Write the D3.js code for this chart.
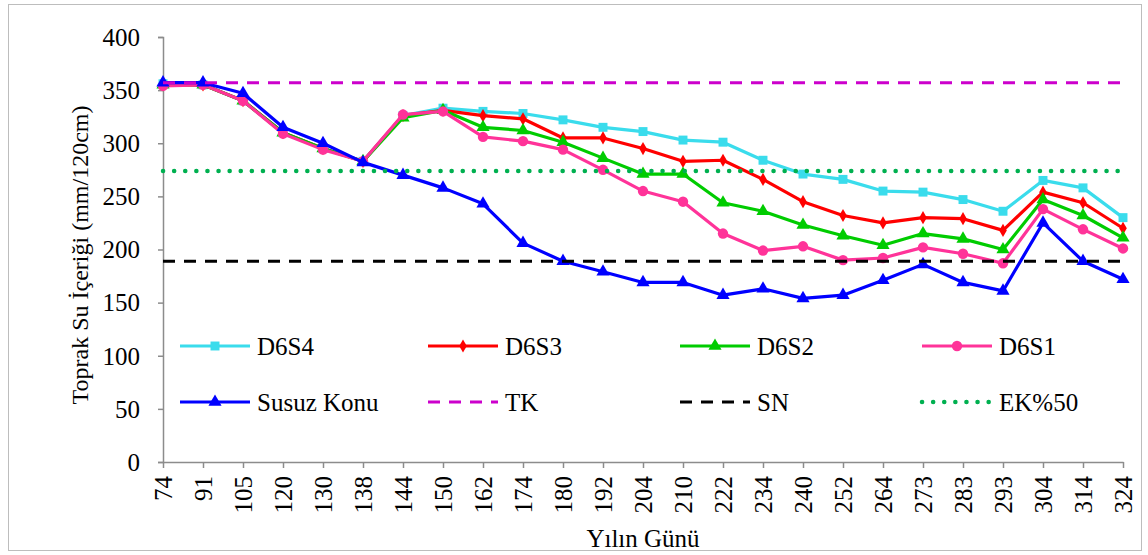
<!DOCTYPE html>
<html><head><meta charset="utf-8">
<script src="https://cdn.jsdelivr.net/npm/d3@7"></script>
</head><body style="margin:0">
<svg id="c" width="1148" height="555" font-family="Liberation Serif"></svg>
<script>
const days = ["74","91","105","120","130","138","144","150","162","174","180","192","204","210","222","234","240","252","264","273","283","293","304","314","324"];
const d6s4 = [356,355,340,310,295,283,326,333,330,328,322,315,311,303,301,284,271,266,255,254,247,236,265,258,230];
const d6s3 = [355,355,340,310,295,283,326,331,326,323,305,305,295,283,284,266,245,232,225,230,229,218,254,244,220];
const d6s2 = [355,355,340,310,295,283,324,331,315,312,301,286,271,271,244,236,223,213,204,215,210,200,247,232,211];
const d6s1 = [354,355,340,309,294,283,327,330,306,302,294,275,255,245,215,199,203,190,192,202,196,187,238,219,201];
const susuz = [357,357,347,315,300,282,270,258,243,206,189,179,169,169,157,163,154,157,171,186,169,161,225,189,172];
const tkValue = 357, snValue = 189, ekValue = 274;
const yTicks = [0,50,100,150,200,250,300,350,400];
const seriesNames = ["D6S4","D6S3","D6S2","D6S1","Susuz Konu"];
const refNames = ["TK","SN","EK%50"];

(function(){
const svg = d3.select("#c");
const font = "Liberation Serif";
const mLeft = 163, mRight = 1123, mTop = 37, mBottom = 462;

svg.append("rect").attr("x",8.5).attr("y",4.5).attr("width",1133).attr("height",546)
  .attr("fill","#fff").attr("stroke","#bdbdbd").attr("stroke-width",1);

const x = d3.scalePoint().domain(days).range([mLeft,mRight]);
const y = d3.scaleLinear().domain([0,400]).range([mBottom,mTop]);

const ya = svg.append("g").attr("transform",`translate(${mLeft},0)`)
  .call(d3.axisLeft(y).tickValues(yTicks).tickSize(5).tickPadding(18));
ya.attr("font-family",font).attr("font-size",25);
ya.select(".domain").attr("stroke","#8c8c8c").attr("stroke-width",1.5);
ya.selectAll(".tick line").attr("stroke","#8c8c8c").attr("stroke-width",1.5);
ya.selectAll("text").attr("fill","#000").attr("dy","0.33em").attr("font-family",font);

const xa = svg.append("g").attr("transform",`translate(0,${mBottom})`)
  .call(d3.axisBottom(x).tickSize(6).tickSizeOuter(0));
xa.attr("font-family",font).attr("font-size",25);
xa.select(".domain").attr("stroke","#8c8c8c").attr("stroke-width",1.5);
xa.selectAll(".tick line").attr("stroke","#8c8c8c").attr("stroke-width",1.5);
xa.selectAll("text").attr("fill","#000").attr("font-family",font)
  .attr("text-anchor","end").attr("transform","rotate(-90)")
  .attr("x",-14).attr("y",0).attr("dy","0.33em");

svg.append("text").attr("transform","translate(88,255) rotate(-90)").attr("text-anchor","middle")
  .attr("font-family",font).attr("font-size",24).attr("fill","#000")
  .text("Toprak Su İçeriği  (mm/120cm)");
svg.append("text").attr("x",643).attr("y",547).attr("text-anchor","middle")
  .attr("font-family",font).attr("font-size",25).attr("fill","#000").text("Yılın Günü");

const series = [
  {name:seriesNames[0], data:d6s4, color:"#3ADCEC", marker:"square"},
  {name:seriesNames[1], data:d6s3, color:"#FF0000", marker:"diamond"},
  {name:seriesNames[2], data:d6s2, color:"#00CC00", marker:"triangle"},
  {name:seriesNames[3], data:d6s1, color:"#FF3399", marker:"circle"},
  {name:seriesNames[4], data:susuz, color:"#0000FF", marker:"triangle"}
];
const symbols = {
  square: d3.symbol().type(d3.symbolSquare).size(80),
  diamond: d3.symbol().type(d3.symbolDiamond).size(50),
  triangle: d3.symbol().type(d3.symbolTriangle).size(75),
  circle: d3.symbol().type(d3.symbolCircle).size(85)
};
const line = d3.line().x((d,i)=>x(days[i])).y(d=>y(d));

const refs = [
  {name:refNames[0], value:tkValue, color:"#CC00CC", dash:"12,9", cap:"butt", width:3},
  {name:refNames[1], value:snValue, color:"#000000", dash:"12,9", cap:"butt", width:3},
  {name:refNames[2], value:ekValue, color:"#00B050", dash:"0.1,11", cap:"round", width:4.5}
];

series.forEach(s=>{
  const g = svg.append("g");
  g.append("path").datum(s.data).attr("d",line).attr("fill","none")
    .attr("stroke",s.color).attr("stroke-width",3.2).attr("stroke-linejoin","round");
  g.selectAll("path.m").data(s.data).join("path").attr("class","m")
    .attr("transform",(d,i)=>`translate(${x(days[i])},${y(d)})`)
    .attr("d",symbols[s.marker]()).attr("fill",s.color);
});

refs.forEach(r=>{
  svg.append("line").attr("x1",mLeft).attr("x2",mRight).attr("y1",y(r.value)).attr("y2",y(r.value))
    .attr("stroke",r.color).attr("stroke-width",r.width).attr("stroke-dasharray",r.dash)
    .attr("stroke-linecap",r.cap);
});

const cols = [180,428,680,922];
const rows = [346,402];
const items = series.map(s=>({name:s.name,color:s.color,marker:s.marker}))
  .concat(refs.map(r=>({name:r.name,color:r.color,dash:r.dash,cap:r.cap,width:r.width})));
items.forEach((it,k)=>{
  const cx = cols[k%4], cy = rows[Math.floor(k/4)];
  const g = svg.append("g");
  if(it.marker){
    g.append("line").attr("x1",cx).attr("x2",cx+70).attr("y1",cy).attr("y2",cy)
      .attr("stroke",it.color).attr("stroke-width",3.2);
    g.append("path").attr("transform",`translate(${cx+35},${cy})`)
      .attr("d",symbols[it.marker]()).attr("fill",it.color);
  } else {
    g.append("line").attr("x1",cx).attr("x2",cx+70).attr("y1",cy).attr("y2",cy)
      .attr("stroke",it.color).attr("stroke-width",it.width).attr("stroke-dasharray",it.dash)
      .attr("stroke-linecap",it.cap);
  }
  g.append("text").attr("x",cx+77).attr("y",cy).attr("dy","0.35em")
    .attr("font-family",font).attr("font-size",25).attr("fill","#000").text(it.name);
});
})();
</script>
</body></html>
